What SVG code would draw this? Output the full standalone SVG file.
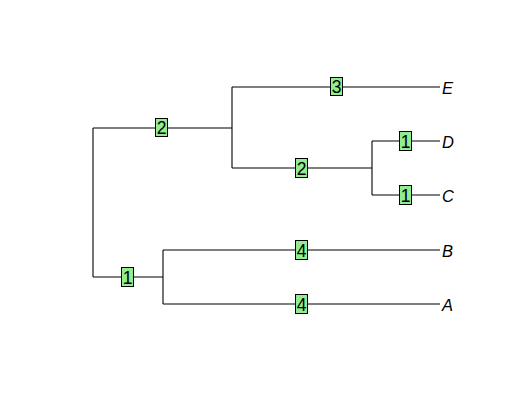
<svg xmlns="http://www.w3.org/2000/svg" width="519" height="411" viewBox="0 0 519 411">
  <style>
    .edge { fill: none; stroke: #000; stroke-width: 1.1; }
    .lab rect { fill: #90ee90; stroke: #000; stroke-width: 1; }
    .lab text { font-family: "Liberation Sans", Arial, sans-serif; font-size: 17.5px; text-anchor: middle; fill: #000; }
    .tip { font-family: "Liberation Sans", Arial, sans-serif; font-size: 16.5px; font-style: italic; fill: #000; }
  </style>
  <rect width="519" height="411" fill="#fff"/>
  <g id="connectors">
    <path class="edge" d="M93,128 V277"/>
    <path class="edge" d="M93,128 H232"/>
    <path class="edge" d="M93,277 H163"/>
    <path class="edge" d="M232,87 V168"/>
    <path class="edge" d="M232,87 H440"/>
    <path class="edge" d="M232,168 H372"/>
    <path class="edge" d="M372,141 V195"/>
    <path class="edge" d="M372,141 H440"/>
    <path class="edge" d="M372,195 H440"/>
    <path class="edge" d="M163,250 V304"/>
    <path class="edge" d="M163,250 H440"/>
    <path class="edge" d="M163,304 H440"/>
  </g>
  <g id="edge-labels">
    <g id="lab-2a" class="lab"><rect x="155.5" y="118.5" width="12" height="18"/><text x="161.5" y="134.3">2</text></g>
    <g id="lab-3" class="lab"><rect x="330.5" y="77.5" width="12" height="18"/><text x="336.5" y="93.3">3</text></g>
    <g id="lab-2b" class="lab"><rect x="295.5" y="158.5" width="12" height="19"/><text x="301.5" y="174.5">2</text></g>
    <g id="lab-1d" class="lab"><rect x="399.5" y="131.5" width="12" height="19"/><text x="405.5" y="147.5">1</text></g>
    <g id="lab-1c" class="lab"><rect x="399.5" y="185.5" width="12" height="19"/><text x="405.5" y="201.5">1</text></g>
    <g id="lab-1" class="lab"><rect x="121.5" y="267.5" width="12" height="19"/><text x="127.5" y="283.5">1</text></g>
    <g id="lab-4b" class="lab"><rect x="295.5" y="240.5" width="12" height="19"/><text x="301.5" y="256.5">4</text></g>
    <g id="lab-4a" class="lab"><rect x="295.5" y="294.5" width="12" height="19"/><text x="301.5" y="310.5">4</text></g>
  </g>
  <g id="tips">
    <g id="tip-E"><text class="tip" x="442" y="94">E</text></g>
    <g id="tip-D"><text class="tip" x="442" y="148">D</text></g>
    <g id="tip-C"><text class="tip" x="442" y="202">C</text></g>
    <g id="tip-B"><text class="tip" x="442" y="257">B</text></g>
    <g id="tip-A"><text class="tip" x="442" y="311">A</text></g>
  </g>
</svg>
